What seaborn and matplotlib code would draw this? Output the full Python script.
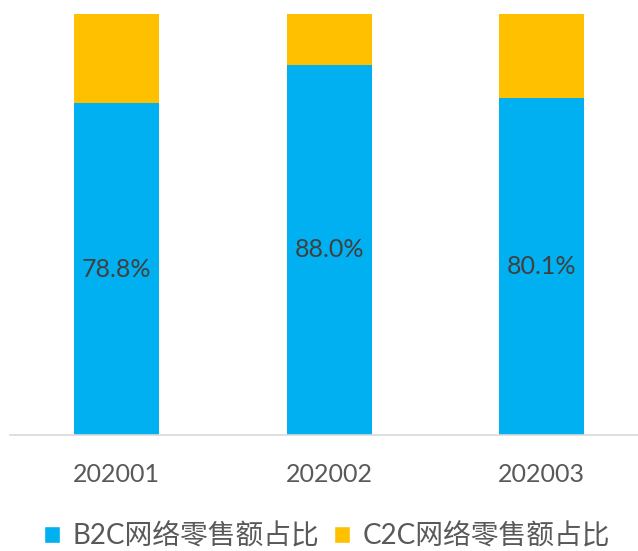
import numpy as np
import pandas as pd
import seaborn as sns
import matplotlib.pyplot as plt
from matplotlib.patches import Patch

# data
months = ['202001', '202002', '202003']
b2c_share = [78.8, 88.0, 80.1]
c2c_share = [21.2, 12.0, 19.9]
series_names = ['B2C网络零售额占比', 'C2C网络零售额占比']

blue = '#00B0F0'
orange = '#FFC000'

sns.set_theme(style='white')
plt.rcParams['font.family'] = ['Lato', 'Noto Sans CJK SC', 'DejaVu Sans']

df = pd.DataFrame({'month': months, 'B2C': b2c_share, 'C2C': c2c_share})
df['total'] = df['B2C'] + df['C2C']

fig = plt.figure(figsize=(6.38, 5.51), dpi=100)
ax = fig.add_axes([10.25 / 638, 116 / 551, 637.5 / 638, 421 / 551])

# stacked: full bar in orange, blue part drawn over it
sns.barplot(data=df, x='month', y='total', color=orange, width=0.4,
            saturation=1, linewidth=0, ax=ax)
sns.barplot(data=df, x='month', y='B2C', color=blue, width=0.4,
            saturation=1, linewidth=0, ax=ax)

for i, v in enumerate(df['B2C']):
    ax.text(i, v / 2, f'{v:.1f}%', ha='center', va='center',
            fontsize=18, color='#404040')

ax.set_ylim(0, 100)
ax.set_xlim(-0.5, 2.5)
ax.set_xlabel('')
ax.set_ylabel('')
ax.set_yticks([])
ax.tick_params(axis='x', length=0, pad=20, labelsize=18, labelcolor='#595959')
for s in ['top', 'left', 'right']:
    ax.spines[s].set_visible(False)
ax.spines['bottom'].set_color('#D9D9D9')
ax.spines['bottom'].set_linewidth(1.2)

handles = [Patch(facecolor=blue), Patch(facecolor=orange)]
fig.legend(handles, series_names, loc='center', bbox_to_anchor=(327 / 638, 15 / 551),
           ncol=2, frameon=False, fontsize=20, handlelength=0.6, handleheight=0.6,
           handletextpad=0.45, columnspacing=0.5, labelcolor='#595959')

fig.savefig('out.png', dpi=100)
